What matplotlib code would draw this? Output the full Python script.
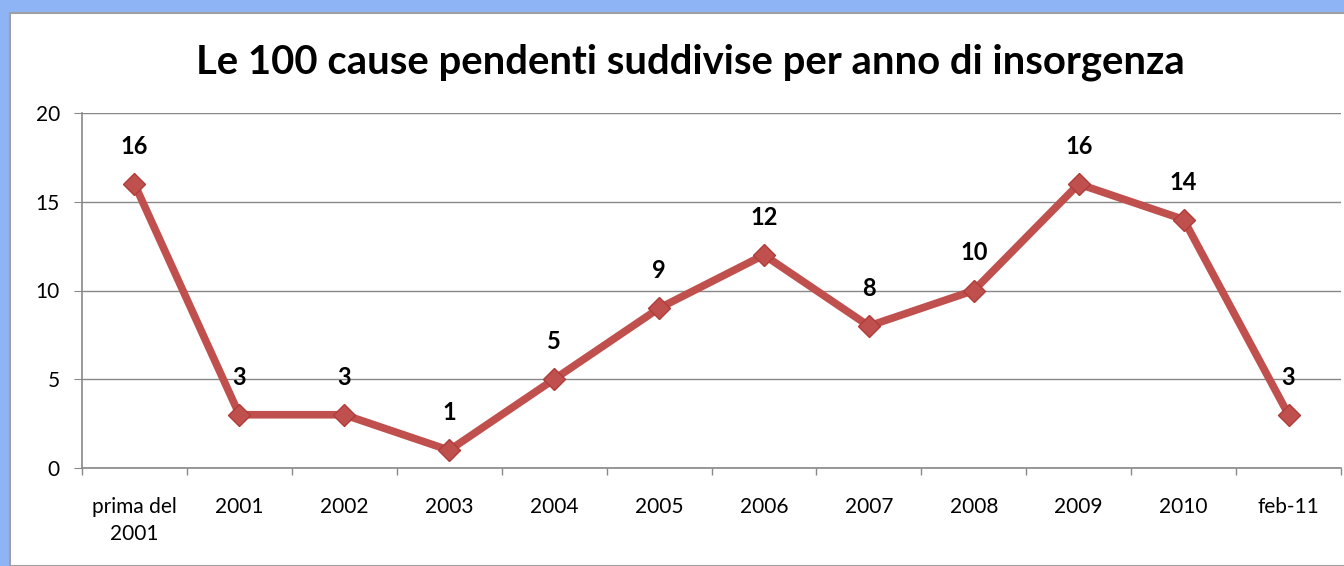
import numpy as np
import matplotlib.pyplot as plt
from matplotlib.patches import Rectangle
from matplotlib.ticker import FixedLocator

plt.rcParams['font.family'] = ['Lato', 'DejaVu Sans']

categorie = ['prima del\n2001', '2001', '2002', '2003', '2004', '2005',
             '2006', '2007', '2008', '2009', '2010', 'feb-11']
cause = [16, 3, 3, 1, 5, 9, 12, 8, 10, 16, 14, 3]
y_ticks = [0, 5, 10, 15, 20]

W, H = 1344, 566
fig = plt.figure(figsize=(W / 100, H / 100), dpi=100)
fig.patch.set_facecolor('#8fb4f5')

# pannello bianco del grafico
fig.patches.append(Rectangle((10 / W, 0), 1.0, 1 - 13 / H, transform=fig.transFigure,
                             facecolor='white', edgecolor='#a0a0a0', linewidth=1.5, zorder=-1))

ax = fig.add_axes([82 / W, 1 - 468 / H, (1341 - 82) / W, (468 - 113) / H])
ax.set_facecolor('none')
ax.set_zorder(2)

x = np.arange(len(categorie))
ax.plot(x, cause, color='#c0504d', linewidth=5.5, marker='D', markersize=11,
        markerfacecolor='#c0504d', markeredgecolor='#b03c39', solid_joinstyle='round',
        clip_on=False, zorder=3)

for xi, v in zip(x, cause):
    ax.annotate(str(v), (xi, v), xytext=(0, 27), textcoords='offset points',
                ha='center', va='center', fontsize=17, fontweight='bold')

ax.set_xlim(-0.5, len(categorie) - 0.5)
ax.set_ylim(0, 20)
ax.set_yticks(y_ticks)
ax.yaxis.grid(True, color='#888888', linewidth=1)
ax.set_axisbelow(True)

ax.set_xticks(x)
ax.set_xticklabels(categorie, fontsize=15, linespacing=1.45)
ax.xaxis.set_minor_locator(FixedLocator(np.arange(-0.5, len(categorie), 1.0)))
ax.tick_params(axis='x', which='major', length=0, pad=21)
ax.tick_params(axis='x', which='minor', length=5, color='#888888', width=1)
ax.tick_params(axis='y', length=6, color='#888888', labelsize=15, pad=10)

for s in ['top', 'right']:
    ax.spines[s].set_visible(False)
for s in ['left', 'bottom']:
    ax.spines[s].set_color('#888888')
    ax.spines[s].set_linewidth(1.2)

fig.text(690 / W, 1 - 62 / H,
         'Le 100 cause pendenti suddivise per anno di insorgenza',
         ha='center', va='center', fontsize=28.8, fontweight='bold')

fig.savefig('out.png', dpi=100, facecolor=fig.get_facecolor())
